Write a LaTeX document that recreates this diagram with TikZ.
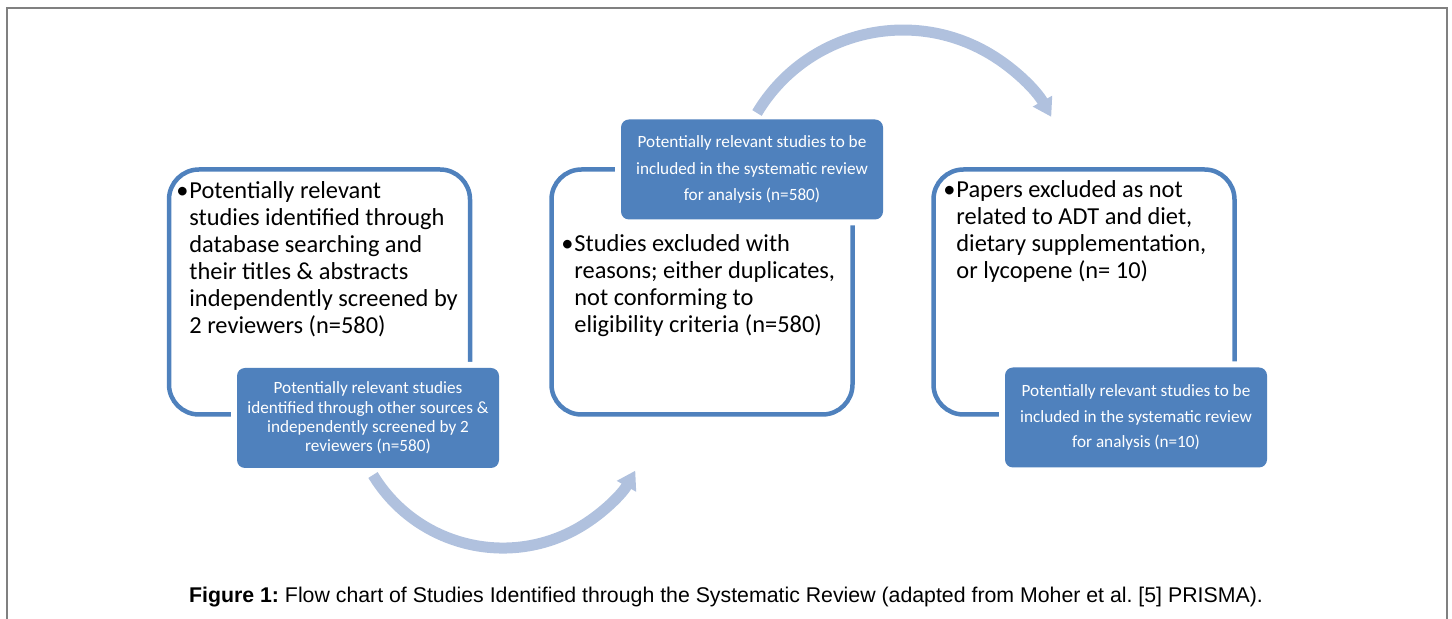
\documentclass[tikz,border=0pt]{standalone}
\usepackage{fontspec}
\setmainfont{Carlito}
\newfontfamily\capfont{Liberation Sans}
\usetikzlibrary{arrows.meta}
\definecolor{boxblue}{RGB}{79,129,189}
\definecolor{arcblue}{RGB}{176,193,222}
\definecolor{framegray}{RGB}{128,128,128}
\frenchspacing
\newcommand{\bul}[1]{\makebox[6.5pt][l]{\textbullet}\parbox[t]{140pt}{\raggedright #1}}
\begin{document}
\begin{tikzpicture}[x=0.5pt,y=-0.5pt,
  outbox/.style={draw=boxblue,line width=2.25pt,rounded corners=15pt,minimum width=150.5pt,minimum height=122.5pt},
  fillbox/.style={fill=boxblue,rounded corners=4pt,minimum width=131pt,minimum height=50pt,text=white,align=center,
    font=\fontsize{8.6}{9.6}\selectfont,preaction={draw=white,line width=6pt}},
  bultext/.style={anchor=base west,inner sep=0pt,font=\fontsize{12.2}{13.5}\selectfont},
  flowarc/.style={draw=arcblue,line width=5.5pt,-{Triangle[length=9pt,width=10.5pt]}}]
\useasboundingbox (0,0) rectangle (1452,619);
\draw[framegray,line width=1pt] (7,619) -- (7,8) -- (1447,8) -- (1447,619);
\node[outbox] (b1) at (319.5,292) {};
\node[outbox] (b2) at (702,292) {};
\node[outbox] (b3) at (1084,292) {};
\node[bultext] (t1) at (176,199) {\bul{Potentially relevant\\studies identified through\\database searching and\\their titles \& abstracts\\independently screened by\\2 reviewers (n=580)}};
\node[bultext] (t2) at (561,252) {\bul{Studies excluded with\\reasons; either duplicates,\\not conforming to\\eligibility criteria (n=580)}};
\node[bultext] (t3) at (943,198) {\bul{Papers excluded as not\\related to ADT and diet,\\dietary supplementation,\\or lycopene (n= 10)}};
\node[fillbox] (f1) at (368,418) {Potentially relevant studies\\identified through other sources \&\\independently screened by 2\\reviewers (n=580)};
\node[fillbox,font=\fontsize{8.6}{13.2}\selectfont] (f2) at (752,169.5) {Potentially relevant studies to be\\included in the systematic review\\for analysis (n=580)};
\node[fillbox,font=\fontsize{8.6}{12.8}\selectfont] (f3) at (1136,417.5) {Potentially relevant studies to be\\included in the systematic review\\for analysis (n=10)};
\coordinate (a1) at (373,475);
\coordinate (a2) at (757,113);
\draw[flowarc] (a1) arc[start angle=148.7,end angle=29.4,radius=152];
\draw[flowarc] (a2) arc[start angle=210.8,end angle=330.7,radius=170];
\node[font=\capfont\fontsize{10.65}{12}\selectfont,anchor=base] (cap) at (726,603) {\textbf{Figure 1:} Flow chart of Studies Identified through the Systematic Review (adapted from Moher et al. [5] PRISMA).};
\end{tikzpicture}
\end{document}
